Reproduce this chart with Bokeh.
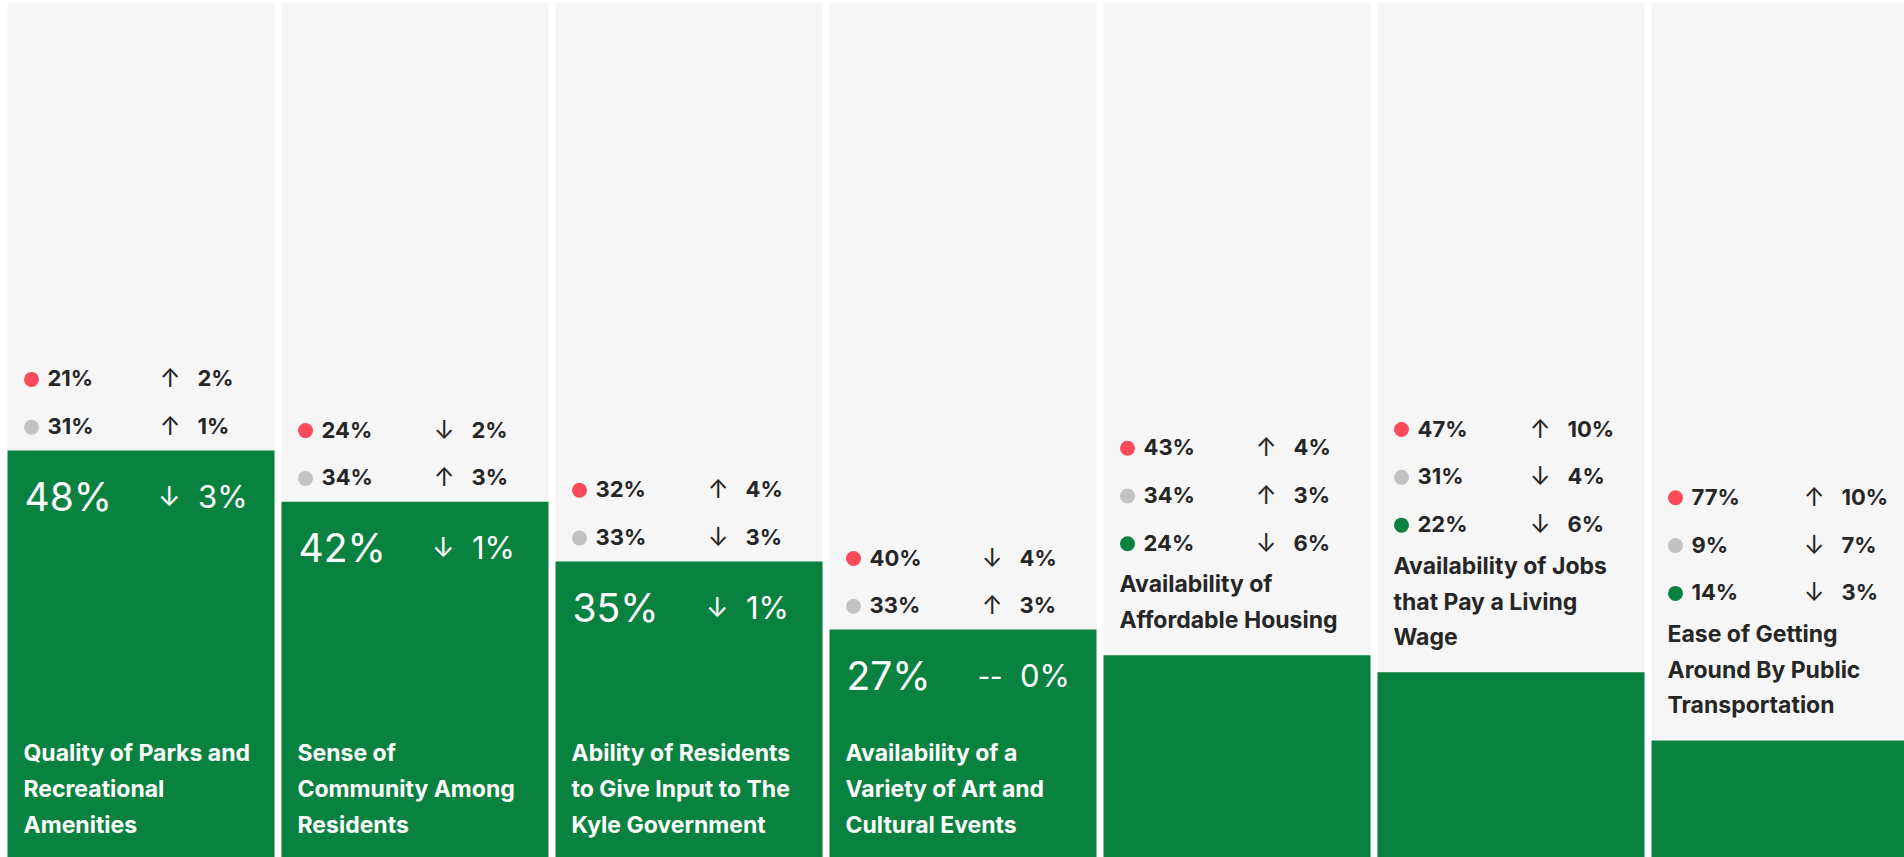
from bokeh.plotting import figure
from bokeh.models import Range1d, ColumnDataSource
from bokeh.core.properties import value
from bokeh.embed import file_html
from bokeh.resources import INLINE

# ---------------- data ----------------
labels = [
    "Quality of Parks and\nRecreational\nAmenities",
    "Sense of\nCommunity Among\nResidents",
    "Ability of Residents\nto Give Input to The\nKyle Government",
    "Availability of a\nVariety of Art and\nCultural Events",
    "Availability of\nAffordable Housing",
    "Availability of Jobs\nthat Pay a Living\nWage",
    "Ease of Getting\nAround By Public\nTransportation",
]
positive = [48, 42, 35, 27, 24, 22, 14]
positive_change = [-3, -1, -1, 0, -6, -6, -3]
neutral = [31, 34, 33, 33, 34, 31, 9]
neutral_change = [1, 3, -3, 3, 3, -4, -7]
negative = [21, 24, 32, 40, 43, 47, 77]
negative_change = [2, -2, 4, -4, 4, 10, 10]

# ---------------- style ----------------
GREEN = "#0a823f"
RED = "#fb4a5a"
GRAYDOT = "#c2c2c2"
PANEL = "#f6f6f6"
DARK = "#262626"
WHITE = "#ffffff"
FONT = value("Inter")

W, H = 1904, 857
PITCH = 274.0      # px per column unit
KY = 8.529         # px per percent
COLW = 267.0 / PITCH
X0 = -7.0 / PITCH
Y1 = 859.4 / KY
THRESH = 25        # bars tall enough to hold their own text

ROW_FS, LAB_FS = 22, 23
CAP = 0.3635       # half cap height of Inter, in em


def dx(px):
    return px / PITCH


def dy(px):
    return px / KY


def sign(c):
    return "\u2191" if c > 0 else ("\u2193" if c < 0 else "--")


p = figure(width=W, height=H, x_range=Range1d(X0, X0 + W / PITCH),
           y_range=Range1d(Y1 - H / KY, Y1), toolbar_location=None,
           output_backend="svg", x_axis_type=None, y_axis_type=None,
           min_border=0, outline_line_color=None,
           background_fill_color="white", border_fill_color="white")
p.grid.visible = False

idx = list(range(len(labels)))
p.quad(left=idx, right=[i + COLW for i in idx], bottom=0, top=100.5,
       fill_color=PANEL, line_color=None)
p.quad(left=idx, right=[i + COLW for i in idx], bottom=0, top=positive,
       fill_color=GREEN, line_color=None)

rows = dict(x=[], y=[], c=[], tx=[], ty=[], t=[], ax=[], a=[], cx=[], ct=[])
big = dict(x=[], y=[], t=[], ax=[], a=[], cx=[], ct=[])
lab = dict(x=[], y=[], t=[], c=[])

ROWSTEP = 47.8
LINESTEP = 35.7
for i in idx:
    top = positive[i]
    lines = labels[i].split("\n")
    L = len(lines)
    if top >= THRESH:
        anchor, lcol = 0, WHITE
        dots = [(negative[i], negative_change[i], RED, top + dy(23.3 + ROWSTEP)),
                (neutral[i], neutral_change[i], GRAYDOT, top + dy(23.3))]
        mid = top - dy(46)
        big["x"].append(i + dx(17))
        big["y"].append(mid)
        big["t"].append(f"{top}%")
        big["ax"].append(i + dx(173))
        big["a"].append(sign(positive_change[i]))
        big["cx"].append(i + dx(190.5))
        big["ct"].append(f"{abs(positive_change[i])}%")
    else:
        anchor, lcol = top, DARK
        line1 = top + dy(26.7 + LINESTEP * (L - 1))
        g = line1 + dy(49)
        dots = [(negative[i], negative_change[i], RED, g + dy(2 * ROWSTEP)),
                (neutral[i], neutral_change[i], GRAYDOT, g + dy(ROWSTEP)),
                (positive[i], positive_change[i], GREEN, g)]
    for v, ch, col, yc in dots:
        rows["x"].append(i + dx(24))
        rows["y"].append(yc)
        rows["c"].append(col)
        rows["tx"].append(i + dx(40))
        rows["ty"].append(yc + dy(1))
        rows["t"].append(f"{v}%")
        rows["ax"].append(i + dx(173))
        rows["a"].append(sign(ch))
        rows["cx"].append(i + dx(190))
        rows["ct"].append(f"{abs(ch)}%")
    for j, ln in enumerate(lines):
        lab["x"].append(i + dx(16))
        lab["y"].append(anchor + dy(26.7 + LINESTEP * (L - 1 - j) + CAP * LAB_FS))
        lab["t"].append(ln)
        lab["c"].append(lcol)

rs = ColumnDataSource(rows)
bs = ColumnDataSource(big)
ls = ColumnDataSource(lab)

p.scatter(x="x", y="y", size=15, fill_color="c", line_color=None, source=rs)
p.text(x="tx", y="ty", text="t", source=rs, text_font=FONT, text_font_size=f"{ROW_FS}px",
       text_font_style="bold", text_color=DARK, text_align="left",
       text_baseline="middle")
p.text(x="ax", y="ty", text="a", source=rs, text_font=FONT, text_font_size="25px",
       text_color=DARK, text_align="right", text_baseline="middle")
p.text(x="cx", y="ty", text="ct", source=rs, text_font=FONT, text_font_size=f"{ROW_FS}px",
       text_font_style="bold", text_color=DARK, text_align="left",
       text_baseline="middle")

p.text(x="x", y="y", text="t", source=bs, text_font=FONT, text_font_size="39px",
       text_color=WHITE, text_align="left", text_baseline="middle")
p.text(x="ax", y="y", text="a", source=bs, text_font=FONT, text_font_size="27px",
       text_color=WHITE, text_align="right", text_baseline="middle")
p.text(x="cx", y="y", text="ct", source=bs, text_font=FONT, text_font_size="31px",
       text_color=WHITE, text_align="left", text_baseline="middle")

p.text(x="x", y="y", text="t", source=ls, text_font=FONT, text_font_size=f"{LAB_FS}px",
       text_font_style="bold", text_color="c", text_align="left",
       text_baseline="middle")

open("out.html", "w").write(file_html(p, INLINE))
